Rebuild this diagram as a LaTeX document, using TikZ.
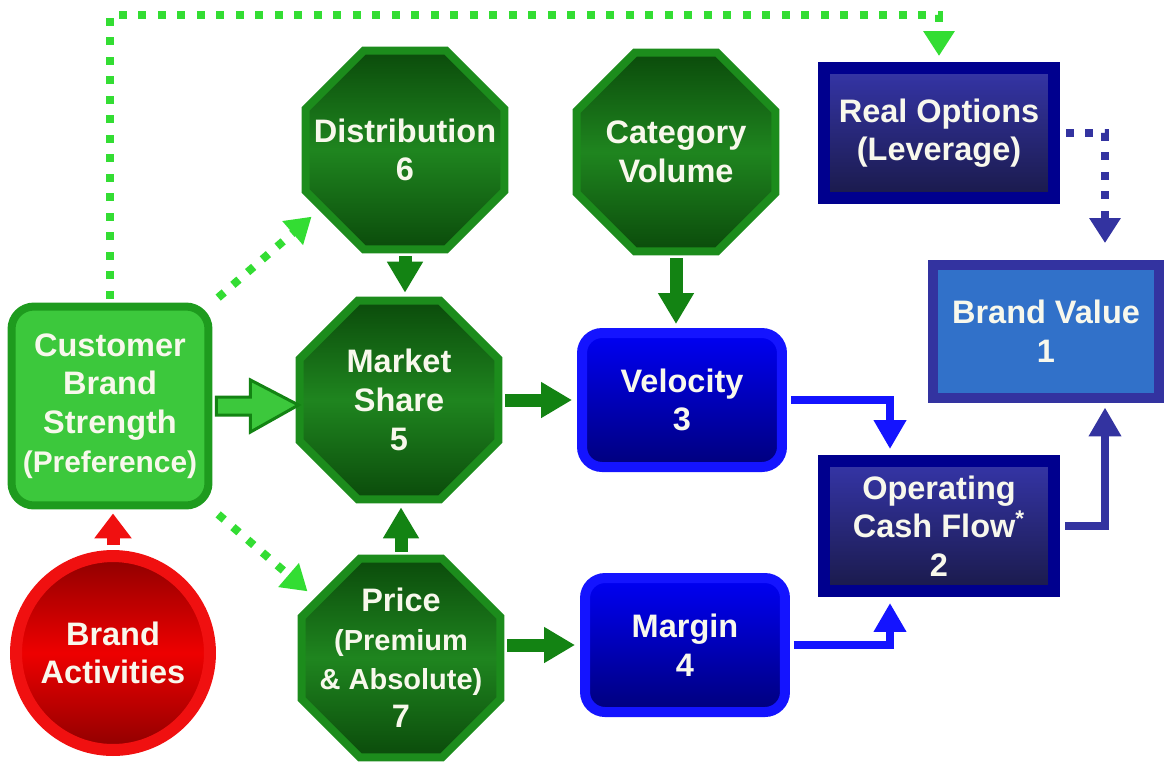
\documentclass[tikz,border=0pt]{standalone}
\usepackage{fontspec}
\setmainfont{Liberation Sans}
\usetikzlibrary{shapes.geometric,arrows.meta,calc}
\definecolor{lg}{HTML}{3CC83C}
\definecolor{lgb}{HTML}{1E9B1E}
\definecolor{dotg}{HTML}{33DD33}
\definecolor{octb}{HTML}{1C8C1C}
\definecolor{octd}{HTML}{0B4B0B}
\definecolor{octm}{HTML}{1F851F}
\definecolor{darr}{HTML}{138313}
\definecolor{bluef}{HTML}{0000F4}
\definecolor{blued}{HTML}{00007C}
\definecolor{blueb}{HTML}{1414FF}
\definecolor{navyb}{HTML}{00008E}
\definecolor{navyt}{HTML}{3535A8}
\definecolor{navyd}{HTML}{1A1A4A}
\definecolor{bvf}{HTML}{3171C9}
\definecolor{bvb}{HTML}{3333A0}
\definecolor{txt}{HTML}{F8F8EC}
\definecolor{redd}{HTML}{8E0000}
\definecolor{redm}{HTML}{EE0000}
\definecolor{redb}{HTML}{F01010}
\newcommand{\smallline}{\fontsize{16.5}{20}\selectfont}
\begin{document}
\begin{tikzpicture}[x=0.02cm,y=-0.02cm,
  every node/.style={text=txt, align=center, font=\bfseries\fontsize{18.5}{22}\selectfont},
  oct/.style={regular polygon, regular polygon sides=8, minimum size=4.3cm, inner sep=0pt,
    draw=octb, line width=0.16cm, top color=octd, bottom color=octd, middle color=octm},
  lbl/.style={inner sep=0pt},
  cbsbox/.style={rectangle, rounded corners=0.45cm, minimum width=3.94cm, minimum height=3.98cm,
    fill=lg, draw=lgb, line width=0.16cm, inner sep=0pt},
  bluebox/.style={rectangle, rounded corners=0.4cm, minimum width=4.0cm, minimum height=2.68cm,
    draw=blueb, line width=0.2cm, top color=bluef, bottom color=blued, inner sep=0pt},
  navybox/.style={rectangle, minimum width=4.6cm, minimum height=2.6cm,
    draw=navyb, line width=0.24cm, top color=navyt, bottom color=navyd, inner sep=0pt},
  bvbox/.style={rectangle, minimum width=4.54cm, minimum height=2.66cm,
    draw=bvb, line width=0.2cm, fill=bvf, inner sep=0pt},
  bacirc/.style={circle, minimum size=3.88cm, draw=redb, line width=0.24cm,
    top color=redd, bottom color=redd, middle color=redm, inner sep=0pt},
  garr/.style={draw=darr, line width=0.26cm, -{Triangle[length=0.62cm,width=0.68cm]}},
  barr/.style={draw=blueb, line width=0.16cm, -{Triangle[length=0.58cm,width=0.62cm]}},
  narr/.style={draw=bvb, line width=0.16cm, -{Triangle[length=0.58cm,width=0.62cm]}},
  redarr/.style={draw=redb, line width=0.26cm, -{Triangle[length=0.5cm,width=0.72cm]}},
  gdots/.style={draw=dotg, line width=0.16cm, dash pattern=on 0.16cm off 0.23cm,
    -{Triangle[length=0.5cm,width=0.6cm]}},
  ndots/.style={draw=bvb, line width=0.16cm, dash pattern=on 0.16cm off 0.23cm,
    -{Triangle[length=0.5cm,width=0.6cm]}},
  blockarr/.style={fill=lg, draw=darr, line width=0.06cm, line join=miter}
]
\useasboundingbox (0,0) rectangle (1165,762);

% nodes
\node[cbsbox] (cbs) at (110,406) {Customer\\Brand\\Strength\\{\fontsize{17}{22}\selectfont(Preference)}};
\node[bacirc] (ba) at (113,653) {Brand\\Activities};
\node[oct] (dist) at (405,150) {};
\node[lbl] (distt) at (dist) {Distribution\\6};
\node[oct] (cv) at (676,152) {};
\node[lbl] (cvt) at (cv) {Category\\Volume};
\node[oct] (ms) at (399,400) {};
\node[lbl] (mst) at (ms) {Market\\Share\\5};
\node[oct] (price) at (401,658) {};
\node[lbl] (pricet) at (price) {Price\\{\smallline(Premium}\\{\smallline\& Absolute)}\\7};
\node[bluebox] (vel) at (682,400) {Velocity\\3};
\node[bluebox] (mar) at (685,645) {Margin\\4};
\node[navybox] (ro) at (939,133) {Real Options\\(Leverage)};
\node[navybox] (ocf) at (939,526) {Operating\\Cash Flow\textsuperscript{*}\\2};
\node[bvbox] (bv) at (1046,331) {Brand Value\\1};

\coordinate (topy) at (0,15);

% connectors
\draw[blockarr] (cbs.east) ++(4,-9) -- ++(34,0) -- ++(0,-17) -- ++(48,25) -- ++(-48,27) -- ++(0,-17) -- ++(-34,0) -- cycle;
\draw[redarr, shorten >=0.08cm, shorten <=0.1cm] (ba.north) -- (ba.north |- cbs.south);
\draw[garr, shorten <=0.06cm, shorten >=0.08cm] (dist.south) -- (dist.south |- ms.north);
\draw[garr, shorten <=0.06cm, shorten >=0.08cm] (cv.south) -- (cv.south |- vel.north);
\draw[garr, shorten <=0.06cm, shorten >=0.08cm] (price.north) -- (price.north |- ms.south);
\draw[garr, shorten <=0.06cm, shorten >=0.1cm] (ms.east) -- (vel.west);
\draw[garr, shorten <=0.06cm, shorten >=0.1cm] (mar.west -| price.east) -- (mar.west);
\draw[barr, shorten <=0.08cm, shorten >=0.12cm] (vel.east) -| ($(ocf.north)+(-49,0)$);
\draw[barr, shorten <=0.08cm, shorten >=0.12cm] (mar.east) -| ($(ocf.south)+(-49,0)$);
\draw[narr, shorten <=0.1cm, shorten >=0.1cm] (ocf.east) -| ($(bv.south)+(59,0)$);
\draw[ndots, shorten <=0.12cm, shorten >=0.33cm] (ro.east) -| ($(bv.north)+(59,0)$);
\draw[gdots, shorten <=0.08cm, shorten >=0.12cm] (cbs.north) -- (cbs.north |- topy) -| (ro.north);
\draw[gdots, shorten <=0.15cm, shorten >=0.2cm] (cbs.north east) -- (dist.215);
\draw[gdots, shorten <=0.15cm, shorten >=0.2cm] (cbs.south east) -- (price.145);
\end{tikzpicture}
\end{document}
